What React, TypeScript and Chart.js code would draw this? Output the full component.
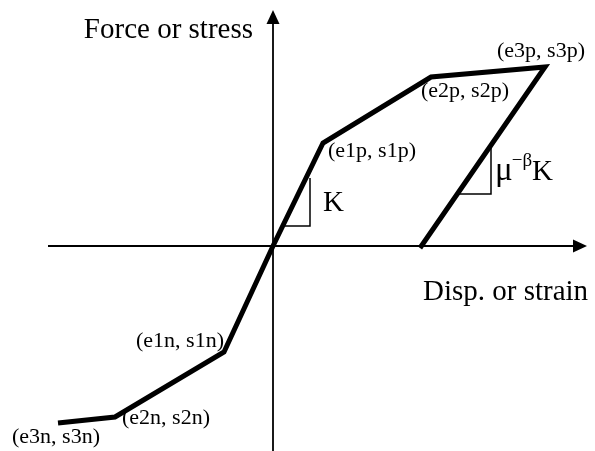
import { useEffect, useRef } from "react";
import Chart from "chart.js/auto";

// Backbone envelope break points (strain, stress), positive and negative branches
const strainPos = [1.0, 3.16, 5.44];
const stressPos = [2.06, 3.38, 3.58];
const strainNeg = [-0.98, -3.16, -4.3];
const stressNeg = [-2.12, -3.42, -3.54];
const labelsPos = ["(e1p, s1p)", "(e2p, s2p)", "(e3p, s3p)"];
const labelsNeg = ["(e1n, s1n)", "(e2n, s2n)", "(e3n, s3n)"];

// Unloading branch from the peak back to zero force
const unloadStrain = 2.94;
const unloadStress = -0.04;

// Axis extents (the arrow tips sit at the far ends)
const xAxisRange = [-4.5, 6.28];
const yAxisRange = [-4.1, 4.72];

// Stiffness marker triangles (open legs; the hypotenuse is the curve itself)
const kTriX = [0.2, 0.74, 0.74];
const kTriY = [0.4, 0.4, 1.36];
const muTriX = [3.67, 4.36, 4.36];
const muTriY = [1.04, 1.04, 2.0];

const xTitle = "Disp. or strain";
const yTitle = "Force or stress";
const kLabel = "K";
const muBase = "\u03bc";
const muExp = "\u2212\u03b2";

const SERIF = '"Liberation Serif", "Times New Roman", serif';

const pts = (xs: number[], ys: number[]) => xs.map((v, i) => ({ x: v, y: ys[i] }));

const annotate = {
  id: "annotate",
  afterDatasetsDraw(chart: any) {
    const { ctx } = chart;
    const xs = chart.scales.x;
    const ys = chart.scales.y;
    const px = (v: number) => xs.getPixelForValue(v);
    const py = (v: number) => ys.getPixelForValue(v);
    const ox = px(0);
    const oy = py(0);
    ctx.save();
    ctx.fillStyle = "#000";

    // arrowheads
    const tx = px(xAxisRange[1]);
    const ty = py(yAxisRange[1]);
    ctx.beginPath();
    ctx.moveTo(tx, oy);
    ctx.lineTo(tx - 14, oy - 6.5);
    ctx.lineTo(tx - 14, oy + 6.5);
    ctx.closePath();
    ctx.fill();
    ctx.beginPath();
    ctx.moveTo(ox, ty);
    ctx.lineTo(ox - 6.5, ty + 14);
    ctx.lineTo(ox + 6.5, ty + 14);
    ctx.closePath();
    ctx.fill();

    ctx.textBaseline = "alphabetic";

    // axis titles
    ctx.font = `29px ${SERIF}`;
    ctx.textAlign = "right";
    ctx.fillText(yTitle, ox - 20, ty + 28);
    ctx.textAlign = "left";
    ctx.fillText(xTitle, 423, oy + 54);

    // break-point labels
    ctx.font = `22px ${SERIF}`;
    const posOff = [[5, 14], [-10, 20], [-48, -10]];
    labelsPos.forEach((t, i) => {
      ctx.fillText(t, px(strainPos[i]) + posOff[i][0], py(stressPos[i]) + posOff[i][1]);
    });
    const negOff = [[-88, -5], [7, 7], [-46, 20]];
    labelsNeg.forEach((t, i) => {
      ctx.fillText(t, px(strainNeg[i]) + negOff[i][0], py(stressNeg[i]) + negOff[i][1]);
    });

    // stiffness labels
    ctx.font = `29px ${SERIF}`;
    ctx.fillText(kLabel, px(kTriX[2]) + 13, py(kTriY[0]) - 15);

    let mx = px(muTriX[2]) + 4;
    const mb = py(muTriY[0]) - 14;
    ctx.font = `33px ${SERIF}`;
    ctx.fillText(muBase, mx, mb);
    mx += ctx.measureText(muBase).width - 1;
    ctx.font = `19px ${SERIF}`;
    ctx.fillText(muExp, mx, mb - 14);
    mx += ctx.measureText(muExp).width;
    ctx.font = `29px ${SERIF}`;
    ctx.fillText(kLabel, mx, mb);

    ctx.restore();
  },
};

export default function App() {
  const ref = useRef<HTMLCanvasElement>(null);

  useEffect(() => {
    if (!ref.current) return;
    const curve = [
      ...pts(strainNeg, stressNeg).reverse(),
      { x: 0, y: 0 },
      ...pts(strainPos, stressPos),
      { x: unloadStrain, y: unloadStress },
    ];
    const thin = {
      borderColor: "#000",
      pointRadius: 0,
      showLine: true,
      fill: false,
      tension: 0,
    };
    const chart = new Chart(ref.current, {
      type: "scatter",
      data: {
        datasets: [
          { ...thin, data: [{ x: xAxisRange[0], y: 0 }, { x: xAxisRange[1] - 0.2, y: 0 }], borderWidth: 1.8 },
          { ...thin, data: [{ x: 0, y: yAxisRange[0] }, { x: 0, y: yAxisRange[1] - 0.2 }], borderWidth: 1.8 },
          { ...thin, data: pts(kTriX, kTriY), borderWidth: 1.5 },
          { ...thin, data: pts(muTriX, muTriY), borderWidth: 1.5 },
          {
            ...thin,
            data: curve,
            borderWidth: 5,
            borderJoinStyle: "miter",
            borderCapStyle: "butt",
          },
        ],
      },
      options: {
        animation: false,
        responsive: false,
        devicePixelRatio: 1,
        layout: { padding: 0 },
        plugins: { legend: { display: false }, tooltip: { enabled: false } },
        events: [],
        scales: {
          x: { type: "linear", min: -5.46, max: 6.44, display: false },
          y: { type: "linear", min: -4.1, max: 4.92, display: false },
        },
      },
      plugins: [annotate],
    } as any);
    return () => chart.destroy();
  }, []);

  return (
    <div style={{ position: "absolute", left: 0, top: 0, width: 595, height: 451, background: "#fff" }}>
      <canvas ref={ref} width={595} height={451} />
    </div>
  );
}
